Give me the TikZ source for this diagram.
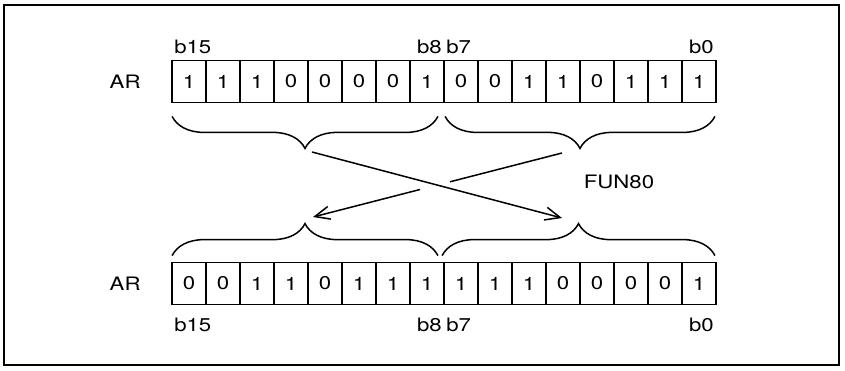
\documentclass[tikz,border=0pt]{standalone}
\usepackage{fontspec}
\setmainfont[FakeStretch=1.2]{TeX Gyre Heros}
\usepackage{tikz}
\usetikzlibrary{arrows.meta,positioning,calc,decorations.pathreplacing}

\begin{document}
\begin{tikzpicture}[
  x=1pt, y=-1pt,
  font=\fontsize{18.5}{21}\selectfont,
  bit/.style={draw, line width=1.8pt, minimum width=34pt, minimum height=42pt, inner sep=0pt},
  bitlabel/.style={inner sep=3pt},
  brace/.style={decorate, decoration={brace, amplitude=32pt, aspect=0.5}, line width=1.5pt},
  swap/.style={line width=1.5pt},
  arrow/.style={swap, -{Straight Barb[length=15pt, width=13pt]}}
]
\useasboundingbox (0,0) rectangle (845,370);
\draw[line width=2pt] (4,5) rectangle (839,365);

% register before
\foreach \v [count=\k from 0] in {1,1,1,0,0,0,0,1,0,0,1,1,0,1,1,1} {
  \pgfmathtruncatemacro{\b}{15-\k}
  \node[bit] (top\b) at (189+34*\k, 81.5) {\v};
}
% register after
\foreach \v [count=\k from 0] in {0,0,1,1,0,1,1,1,1,1,1,0,0,0,0,1} {
  \pgfmathtruncatemacro{\b}{15-\k}
  \node[bit] (bot\b) at (189+34*\k, 283.5) {\v};
}

\node[left=27pt of top15] (arTop) {AR};
\node[left=27pt of bot15] (arBot) {AR};

\node[bitlabel, above=3pt of top15.north west, anchor=south west] (tb15) {b15};
\node[bitlabel, above=3pt of top8.north east, anchor=south east] (tb8) {b8};
\node[bitlabel, above=3pt of top7.north west, anchor=south west] (tb7) {b7};
\node[bitlabel, above=3pt of top0.north east, anchor=south east] (tb0) {b0};
\node[bitlabel, below=9pt of bot15.south west, anchor=north west] (bb15) {b15};
\node[bitlabel, below=9pt of bot8.south east, anchor=north east] (bb8) {b8};
\node[bitlabel, below=9pt of bot7.south west, anchor=north west] (bb7) {b7};
\node[bitlabel, below=9pt of bot0.south east, anchor=north east] (bb0) {b0};

% high and low bytes
\draw[brace, decoration={mirror}] ($(top15.south west)+(1,13)$) -- ($(top8.south east)+(-7,13)$);
\draw[brace, decoration={mirror}] ($(top7.south west)+(2,13)$) -- ($(top0.south east)+(-2,13)$);
\draw[brace] ($(bot15.north west)+(1,-6)$) -- ($(bot8.north east)+(-7,-6)$);
\draw[brace] ($(bot7.north west)+(-1,-6)$) -- ($(bot0.north east)+(-2,-6)$);

\coordinate (fromL) at (312,152);
\coordinate (toR) at (562,218);
\coordinate (fromR) at (562,153);
\coordinate (toL) at (313,217);
\draw[arrow] (fromL) -- (toR);
\draw[swap] (fromR) -- ($(fromR)!0.45!(toL)$);
\draw[arrow] ($(fromR)!0.57!(toL)$) -- (toL);

\node (fun) at (619,182) {FUN80};
\end{tikzpicture}
\end{document}
